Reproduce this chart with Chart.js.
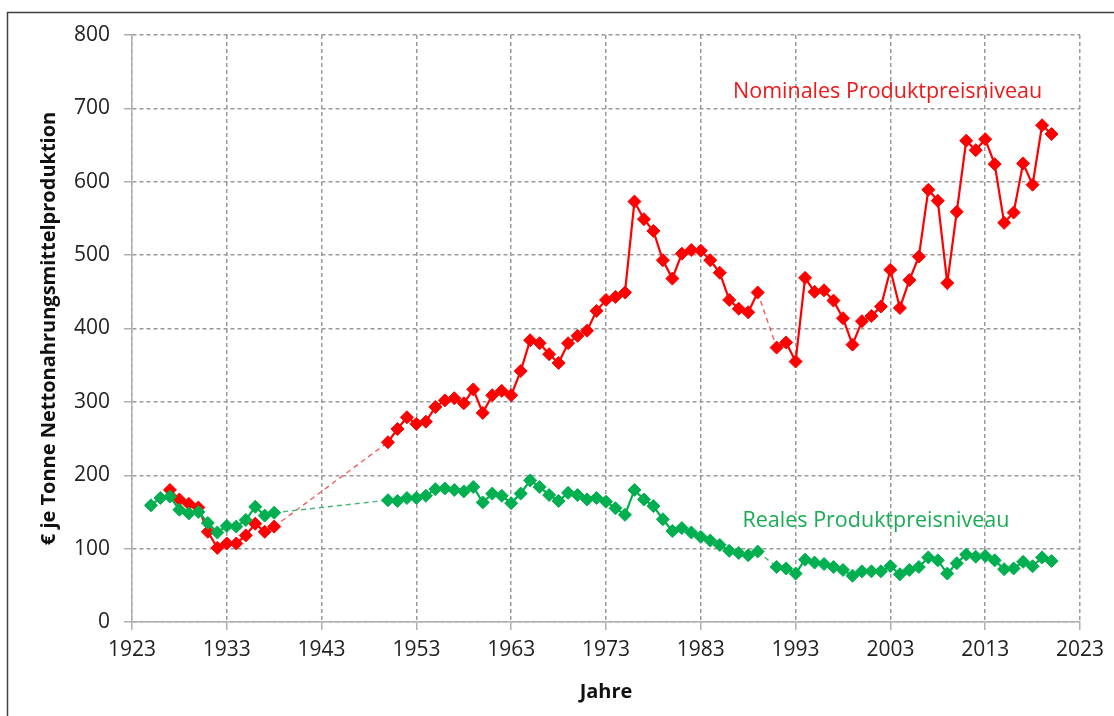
<!DOCTYPE html>
<html>
<head>
<meta charset="utf-8">
<script src="https://cdn.jsdelivr.net/npm/chart.js@4.4.1/dist/chart.umd.min.js"></script>
<style>
  html, body { margin: 0; padding: 0; background: #fff; }
  #wrap { width: 1114px; height: 716px; position: relative; }
</style>
</head>
<body>
<div id="wrap"><canvas id="chart"></canvas></div>
<script>
// Jahre 1925–2020, Lücken (1939–1949, 1990) als null
const jahre = [];
for (let j = 1925; j <= 2020; j++) jahre.push(j);

const nominal = [
  null, null, 180, 167, 161, 156, 123, 101, 107, 107, 118, 134, 123, 130,
  null, null, null, null, null, null, null, null, null, null, null,
  245, 263, 279, 270, 273, 293, 302, 305, 298, 317,
  285, 309, 315, 309, 342, 384, 380, 365, 353, 380,
  390, 397, 424, 439, 443, 449, 573, 549, 533, 493,
  468, 502, 507, 506, 493, 476, 439, 427, 422, 449,
  null, 374, 381, 355, 469, 450, 452, 438, 414, 378,
  410, 417, 430, 480, 428, 466, 498, 589, 574, 462,
  559, 656, 643, 658, 624, 544, 558, 625, 596, 677,
  665
];

const real = [
  159, 169, 171, 153, 148, 150, 135, 122, 131, 130, 139, 157, 145, 149,
  null, null, null, null, null, null, null, null, null, null, null,
  166, 165, 169, 169, 172, 181, 182, 180, 178, 184,
  163, 175, 172, 162, 175, 193, 184, 173, 165, 176,
  173, 167, 169, 164, 155, 146, 180, 167, 158, 140,
  124, 128, 122, 116, 111, 105, 97, 94, 91, 96,
  null, 75, 73, 66, 85, 81, 79, 75, 71, 63,
  69, 69, 69, 76, 65, 71, 75, 88, 84, 66,
  80, 92, 89, 90, 84, 72, 73, 82, 76, 88,
  83
];

const xTicks = [1923, 1933, 1943, 1953, 1963, 1973, 1983, 1993, 2003, 2013, 2023];
const yTicks = [0, 100, 200, 300, 400, 500, 600, 700, 800];

const ROT = '#ff0000';
const GRUEN = '#00b050';
const FONT = "'Open Sans', 'Noto Sans', sans-serif";

const skipped = (ctx, value) => (ctx.p0.skip || ctx.p1.skip ? value : undefined);

function series(label, values, color, gapColor, order) {
  return {
    label,
    data: jahre.map((j, i) => ({ x: j, y: values[i] })),
    borderColor: color,
    backgroundColor: color,
    borderWidth: 2.2,
    pointStyle: 'rectRot',
    pointRadius: 6.5,
    pointBorderWidth: 1,
    pointBorderColor: color,
    pointBackgroundColor: color,
    spanGaps: true,
    tension: 0,
    order,
    segment: {
      borderDash: ctx => skipped(ctx, [5, 4]),
      borderColor: ctx => skipped(ctx, gapColor),
      borderWidth: ctx => skipped(ctx, 1.4),
    },
  };
}

// Rahmen und Beschriftungen der Kurven
const extras = {
  id: 'extras',
  beforeDraw(chart) {
    const c = chart.ctx;
    c.save();
    c.fillStyle = '#fff';
    c.fillRect(0, 0, chart.width, chart.height);
    c.strokeStyle = '#404040';
    c.lineWidth = 1.5;
    c.strokeRect(7.5, 12.5, chart.width + 20, chart.height + 20);
    c.restore();
  },
  afterDatasetsDraw(chart) {
    const { ctx: c, scales: { x, y } } = chart;
    c.save();
    c.font = '21.5px ' + FONT;
    c.textAlign = 'left';
    c.textBaseline = 'alphabetic';
    c.fillStyle = '#f01818';
    c.fillText('Nominales Produktpreisniveau', x.getPixelForValue(1986.4), y.getPixelForValue(714));
    c.fillStyle = '#1aab55';
    c.fillText('Reales Produktpreisniveau', x.getPixelForValue(1987.4), y.getPixelForValue(129));
    c.restore();
  },
};

new Chart(document.getElementById('chart'), {
  type: 'line',
  data: {
    datasets: [
      series('Nominales Produktpreisniveau', nominal, ROT, '#f06060', 2),
      series('Reales Produktpreisniveau', real, GRUEN, '#40b878', 1),
    ],
  },
  options: {
    responsive: true,
    maintainAspectRatio: false,
    animation: false,
    layout: { padding: { top: 35, right: 34, left: 0, bottom: 0 } },
    plugins: { legend: { display: false }, tooltip: { enabled: false } },
    scales: {
      x: {
        type: 'linear',
        min: 1923,
        max: 2023,
        afterBuildTicks: s => { s.ticks = xTicks.map(v => ({ value: v })); },
        afterFit: s => { s.height = 94; },
        ticks: { color: '#222', font: { family: FONT, size: 21 }, padding: 7, maxRotation: 0, callback: v => String(v) },
        grid: { color: '#9a9a9a', lineWidth: 1.5, tickLength: 8, tickColor: '#b0b0b0' },
        border: { display: true, color: '#b0b0b0', width: 1.5, dash: [4, 3] },
        title: { display: true, text: 'Jahre', color: '#111', font: { family: FONT, size: 20, weight: 'bold' }, padding: { top: 0, bottom: 12 } },
      },
      y: {
        min: 0,
        max: 800,
        afterBuildTicks: s => { s.ticks = yTicks.map(v => ({ value: v })); },
        afterFit: s => { s.width = 132; },
        ticks: { color: '#222', font: { family: FONT, size: 21 }, padding: 14, callback: v => String(v) },
        grid: { color: '#9a9a9a', lineWidth: 1.5, tickLength: 8, tickColor: '#b0b0b0' },
        border: { display: true, color: '#b0b0b0', width: 1.5, dash: [4, 3] },
        title: { display: true, text: '€ je Tonne Nettonahrungsmittelproduktion', color: '#111', font: { family: FONT, size: 20, weight: 'bold' }, padding: { top: 37, bottom: 0 } },
      },
    },
  },
  plugins: [extras],
});
</script>
</body>
</html>
